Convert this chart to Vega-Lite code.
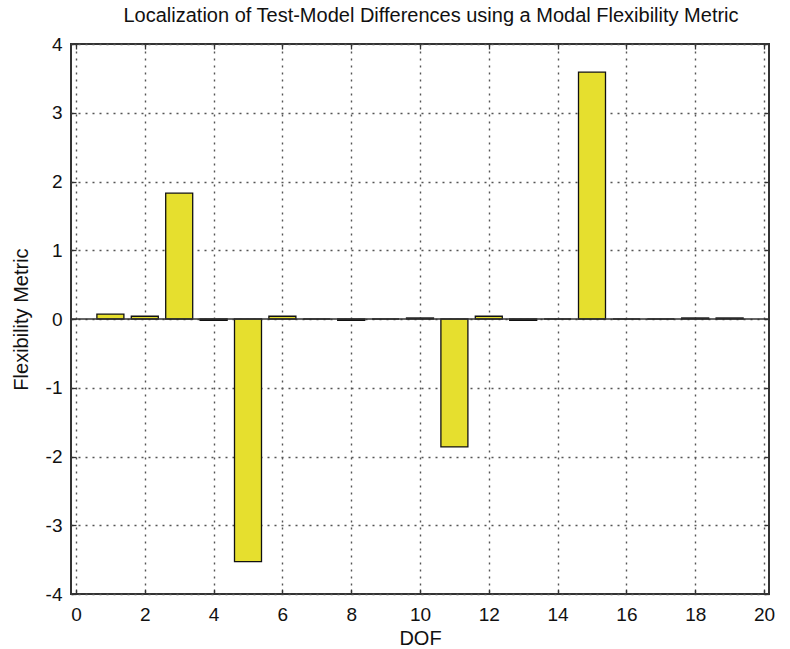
{
  "$schema": "https://vega.github.io/schema/vega-lite/v6.json",
  "width": 698,
  "height": 550,
  "autosize": {"type": "none"},
  "padding": {"left": 71, "top": 44, "right": 21, "bottom": 55},
  "background": "white",
  "title": {
    "text": "Localization of Test-Model Differences using a Modal Flexibility Metric",
    "font": "Liberation Sans",
    "fontSize": 20,
    "fontWeight": "normal",
    "color": "#111",
    "offset": 9,
    "dx": 11
  },
  "config": {
    "view": {"stroke": "#333", "strokeWidth": 2},
    "axis": {
      "labelFont": "Liberation Sans",
      "titleFont": "Liberation Sans",
      "labelFontSize": 19,
      "titleFontSize": 20,
      "titleFontWeight": "normal",
      "labelColor": "#111",
      "titleColor": "#111",
      "domain": false,
      "tickColor": "#333",
      "tickSize": 5,
      "tickWidth": 1.3,
      "gridColor": "#555",
      "gridDash": [2, 5],
      "gridWidth": 1.4,
      "gridOpacity": 1
    }
  },
  "data": {
    "values": [
      {"dof": 1, "metric": 0.07},
      {"dof": 2, "metric": 0.04},
      {"dof": 3, "metric": 1.83},
      {"dof": 4, "metric": -0.02},
      {"dof": 5, "metric": -3.53},
      {"dof": 6, "metric": 0.04},
      {"dof": 7, "metric": 0.0},
      {"dof": 8, "metric": -0.02},
      {"dof": 9, "metric": 0.0},
      {"dof": 10, "metric": 0.015},
      {"dof": 11, "metric": -1.86},
      {"dof": 12, "metric": 0.04},
      {"dof": 13, "metric": -0.02},
      {"dof": 14, "metric": 0.0},
      {"dof": 15, "metric": 3.59},
      {"dof": 16, "metric": 0.0},
      {"dof": 17, "metric": 0.0},
      {"dof": 18, "metric": 0.015},
      {"dof": 19, "metric": 0.015}
    ]
  },
  "layer": [
    {
      "mark": {"type": "bar", "size": 27, "color": "#e6df2e", "stroke": "#111", "strokeWidth": 1.3},
      "encoding": {
        "x": {
          "field": "dof", "type": "quantitative",
          "scale": {"domain": [0, 20], "nice": false, "zero": false},
          "axis": {"values": [0, 2, 4, 6, 8, 10, 12, 14, 16, 18, 20], "title": "DOF", "ticks": false, "tickSize": 0, "labelPadding": 11, "titlePadding": 4, "labelFlush": false}
        },
        "y": {
          "field": "metric", "type": "quantitative",
          "scale": {"domain": [-4, 4], "nice": false},
          "axis": {"values": [-4, -3, -2, -1, 0, 1, 2, 3, 4], "title": "Flexibility Metric", "ticks": false, "tickSize": 0, "labelPadding": 9, "titlePadding": 14, "labelFlush": false,
                   "labelExpr": "datum.value < 0 ? '-' + abs(datum.value) : '' + datum.value"}
        }
      }
    },
    {
      "data": {"values": [{"y": 0}]},
      "mark": {"type": "rule", "color": "#333", "strokeWidth": 1.5},
      "encoding": {
        "y": {"field": "y", "type": "quantitative", "scale": {"domain": [-4, 4], "nice": false}, "axis": {"orient": "right", "offset": -698, "values": [-4, -3, -2, -1, 0, 1, 2, 3, 4], "labels": false, "title": null, "grid": false}}
      }
    },
    {
      "data": {"values": [{"y": 0}]},
      "mark": {"type": "rule", "opacity": 0},
      "encoding": {
        "y": {"field": "y", "type": "quantitative", "scale": {"domain": [-4, 4], "nice": false}, "axis": {"orient": "left", "offset": -698, "values": [-4, -3, -2, -1, 0, 1, 2, 3, 4], "labels": false, "title": null, "grid": false}}
      }
    },
    {
      "data": {"values": [{"x": 0}]},
      "mark": {"type": "rule", "opacity": 0},
      "encoding": {
        "x": {"field": "x", "type": "quantitative", "scale": {"domain": [0, 20], "nice": false}, "axis": {"orient": "top", "offset": -550, "values": [0, 2, 4, 6, 8, 10, 12, 14, 16, 18, 20], "labels": false, "title": null, "grid": false}}
      }
    },
    {
      "data": {"values": [{"x": 0}]},
      "mark": {"type": "rule", "opacity": 0},
      "encoding": {
        "x": {"field": "x", "type": "quantitative", "scale": {"domain": [0, 20], "nice": false}, "axis": {"orient": "bottom", "offset": -550, "values": [0, 2, 4, 6, 8, 10, 12, 14, 16, 18, 20], "labels": false, "title": null, "grid": false}}
      }
    }
  ],
  "resolve": {"axis": {"x": "independent", "y": "independent"}}
}
